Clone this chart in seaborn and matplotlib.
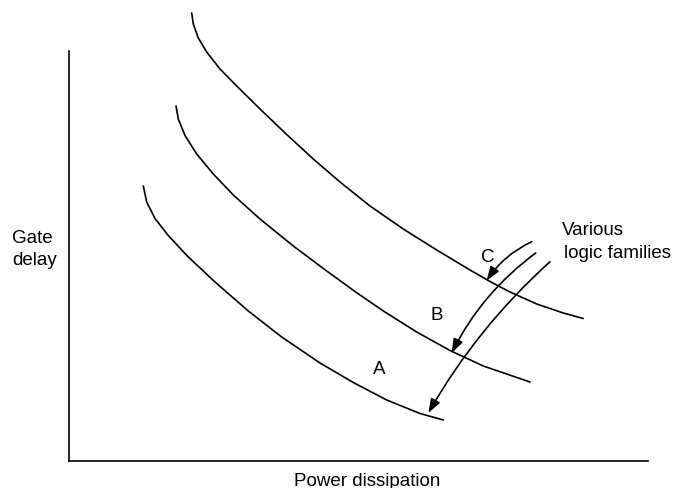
import pandas as pd
import matplotlib
matplotlib.use("Agg")
import matplotlib.pyplot as plt
import seaborn as sns
from matplotlib.patches import FancyArrowPatch

sns.set_style("white")
plt.rcParams['font.family'] = ['Liberation Sans', 'DejaVu Sans']
plt.rcParams['text.color'] = 'black'

# curves (x = power, y = delay, pixel-like units, y grows downward)
curve_c_x = [191.7, 193.3, 198.3, 206.7, 220, 236.7, 260, 286.7, 313.3, 340, 370,
             403.3, 436.7, 470, 490, 510, 536.7, 563.3, 583.3]
curve_c_y = [14, 25, 39, 53, 70, 87, 110, 135.5, 160, 183, 207,
             230, 251, 271, 282.5, 293, 305, 314, 319.5]
curve_b_x = [176, 178.3, 185, 196.7, 213.3, 233.3, 260, 293.3, 326.7, 355,
             383.3, 416.7, 450, 483.3, 530]
curve_b_y = [107, 120, 136.5, 155, 175, 196, 220, 247, 272, 292.5,
             312, 333, 351.5, 367, 383]
curve_a_x = [143.3, 146.7, 155, 168.3, 188.3, 215, 248.3, 281.7, 320, 353.3,
             386.7, 420, 443.3]
curve_a_y = [187, 203, 219.5, 236.5, 258, 283, 312, 338, 364, 383.5,
             401, 414.5, 421]

curve_labels = ['A', 'B', 'C']
label_x = [379, 437, 488]
label_y = [369, 316, 258]

# arrows: start -> end
arrow_x0 = [531.7, 535.7, 550]
arrow_y0 = [242.7, 254, 262.7]
arrow_x1 = [486.7, 451.7, 428.3]
arrow_y1 = [281.7, 354, 414]
arrow_rad = [0.14, 0.12, 0.08]

curves = pd.concat([
    pd.DataFrame({'power': curve_a_x, 'delay': curve_a_y, 'family': 'A'}),
    pd.DataFrame({'power': curve_b_x, 'delay': curve_b_y, 'family': 'B'}),
    pd.DataFrame({'power': curve_c_x, 'delay': curve_c_y, 'family': 'C'}),
])

fig = plt.figure(figsize=(6.76, 4.89), dpi=100)
ax = fig.add_axes([69 / 676, 27 / 489, (648 - 69) / 676, (462 - 52) / 489])

for fam, d in curves.groupby('family'):
    sns.lineplot(data=d, x='power', y='delay', sort=False, estimator=None,
                 color='black', lw=1.2, ax=ax, clip_on=False)

ax.set_xlim(69, 648)
ax.set_ylim(462, 52)

for lab, x, y in zip(curve_labels, label_x, label_y):
    ax.text(x, y, lab, ha='center', va='center', fontsize=13.5, color='black')

for x0, y0, x1, y1, r in zip(arrow_x0, arrow_y0, arrow_x1, arrow_y1, arrow_rad):
    arr = FancyArrowPatch((x0, y0), (x1, y1), connectionstyle=f"arc3,rad={r}",
                          arrowstyle="-|>,head_length=0.7,head_width=0.25",
                          mutation_scale=12, color='black', lw=1.2,
                          shrinkA=0, shrinkB=0, clip_on=False)
    ax.add_patch(arr)

ax.text(562, 235, 'Various', ha='left', va='baseline', fontsize=13.5, color='black')
ax.text(564, 258, 'logic families', ha='left', va='baseline', fontsize=13.5, color='black')

ax.set_xticks([])
ax.set_yticks([])
ax.set_xlabel('')
ax.set_ylabel('')
for s in ['top', 'right']:
    ax.spines[s].set_visible(False)
for s in ['left', 'bottom']:
    ax.spines[s].set_color('black')
    ax.spines[s].set_linewidth(1.2)

fig.text(12 / 676, 1 - 243 / 489, 'Gate', ha='left', va='baseline', fontsize=13.5)
fig.text(12 / 676, 1 - 265 / 489, 'delay', ha='left', va='baseline', fontsize=13.5)
fig.text(367 / 676, 1 - 486 / 489, 'Power dissipation', ha='center', va='baseline', fontsize=13.5)

plt.savefig('out.png', dpi=100)
plt.close()
